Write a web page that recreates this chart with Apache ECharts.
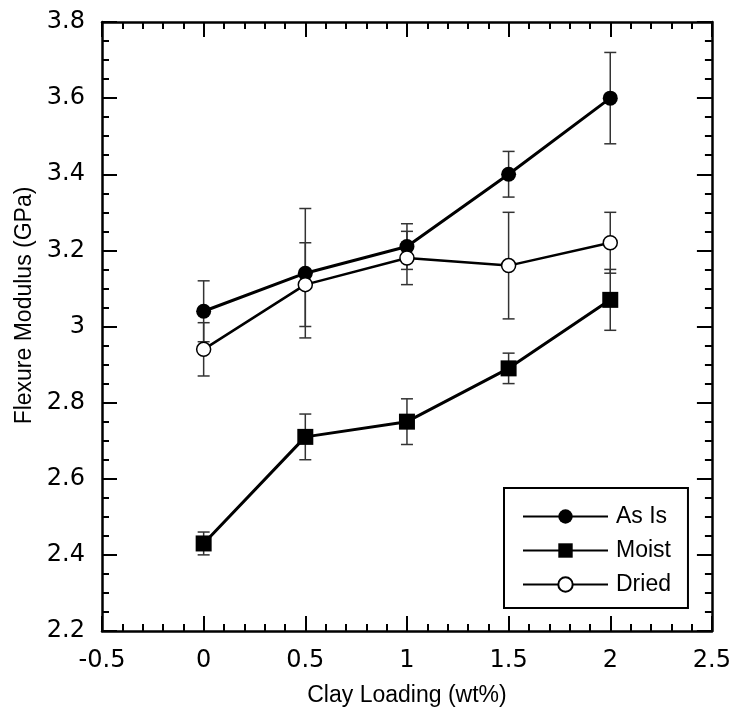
<!DOCTYPE html>
<html><head><meta charset="utf-8">
<script src="https://cdn.jsdelivr.net/npm/echarts@6/dist/echarts.min.js"></script>
<style>html,body{margin:0;padding:0;background:#fff}#c{width:734px;height:717px}</style>
</head><body><div id="c"></div>
<script>
const xValues = [0, 0.5, 1, 1.5, 2];
const asIs = [3.04, 3.14, 3.21, 3.40, 3.60];
const asIsErr = [0.08, 0.17, 0.06, 0.06, 0.12];
const moist = [2.43, 2.71, 2.75, 2.89, 3.07];
const moistErr = [0.03, 0.06, 0.06, 0.04, 0.08];
const dried = [2.94, 3.11, 3.18, 3.16, 3.22];
const driedErr = [0.07, 0.11, 0.07, 0.14, 0.08];
const seriesNames = ['As Is', 'Moist', 'Dried'];

const FONT = 'Liberation Sans, Arial, sans-serif';
const NUMFONT = 'DejaVu Sans, Liberation Sans, sans-serif';
const pts = (ys) => xValues.map((x, i) => [x, ys[i]]);
const errRows = (ys, es) => xValues.map((x, i) => [x, ys[i] - es[i], ys[i] + es[i]]);

function errorSeries(ys, es) {
  return {
    type: 'custom', silent: true, z: 1,
    data: errRows(ys, es),
    encode: { x: 0, y: [1, 2] },
    renderItem: function (params, api) {
      const lo = api.coord([api.value(0), api.value(1)]);
      const hi = api.coord([api.value(0), api.value(2)]);
      const w = 6;
      const st = { stroke: '#333', lineWidth: 1.5 };
      return { type: 'group', children: [
        { type: 'line', shape: { x1: lo[0], y1: lo[1], x2: hi[0], y2: hi[1] }, style: st },
        { type: 'line', shape: { x1: hi[0] - w, y1: hi[1], x2: hi[0] + w, y2: hi[1] }, style: st },
        { type: 'line', shape: { x1: lo[0] - w, y1: lo[1], x2: lo[0] + w, y2: lo[1] }, style: st }
      ]};
    }
  };
}

function lineSeries(name, ys, symbol, fill, size, lw) {
  return {
    name: name, type: 'line', data: pts(ys), z: 3,
    symbol: symbol, symbolSize: size, showAllSymbol: true,
    lineStyle: { color: '#000', width: lw },
    itemStyle: { color: fill, borderColor: '#000', borderWidth: fill === '#fff' ? 1.5 : 0, opacity: 1 },
    emphasis: { disabled: true }, animation: false
  };
}

const axisCommon = {
  axisLine: { show: true, onZero: false, lineStyle: { color: '#000', width: 2.5 } },
  splitLine: { show: false }
};

const chart = echarts.init(document.getElementById('c'), null, { renderer: 'canvas' });
chart.setOption({
  animation: false,
  backgroundColor: '#fff',
  grid: { left: 102, right: 20, top: 22, bottom: 86, containLabel: false },
  xAxis: [
    Object.assign({
      type: 'value', min: -0.5, max: 2.5, interval: 0.5, position: 'bottom',
      name: 'Clay Loading (wt%)', nameLocation: 'middle', nameGap: 53,
      nameTextStyle: { fontFamily: FONT, fontSize: 23, color: '#000' },
      axisTick: { show: true, inside: true, length: 15, lineStyle: { color: '#000', width: 2 } },
      minorTick: { show: true, splitNumber: 5, length: 7, lineStyle: { color: '#000', width: 2 } },
      axisLabel: { fontFamily: NUMFONT, fontSize: 24, color: '#000', margin: 18, showMinLabel: true, showMaxLabel: true }
    }, axisCommon),
    Object.assign({
      type: 'value', min: -0.5, max: 2.5, interval: 0.5, position: 'top',
      axisTick: { show: true, inside: true, length: 15, lineStyle: { color: '#000', width: 2 } },
      minorTick: { show: true, splitNumber: 5, length: 7, lineStyle: { color: '#000', width: 2 } },
      axisLabel: { show: false }
    }, axisCommon)
  ],
  yAxis: [
    Object.assign({
      type: 'value', min: 2.2, max: 3.8, interval: 0.2, position: 'left',
      name: 'Flexure Modulus (GPa)', nameLocation: 'middle', nameGap: 66,
      nameTextStyle: { fontFamily: FONT, fontSize: 23, color: '#000', padding: [0, 0, 0, 42] },
      axisTick: { show: true, inside: true, length: 15, lineStyle: { color: '#000', width: 2 } },
      minorTick: { show: true, splitNumber: 4, length: 7, lineStyle: { color: '#000', width: 2 } },
      axisLabel: { fontFamily: NUMFONT, fontSize: 24, color: '#000', margin: 17, showMinLabel: true, showMaxLabel: true }
    }, axisCommon),
    Object.assign({
      type: 'value', min: 2.2, max: 3.8, interval: 0.2, position: 'right',
      axisTick: { show: true, inside: true, length: 15, lineStyle: { color: '#000', width: 2 } },
      minorTick: { show: true, splitNumber: 4, length: 7, lineStyle: { color: '#000', width: 2 } },
      axisLabel: { show: false }
    }, axisCommon)
  ],
  legend: {
    show: true, orient: 'vertical', left: 504, top: 488,
    data: seriesNames,
    itemWidth: 85, itemHeight: 18, itemGap: 11,
    padding: [17, 17, 12, 18],
    borderColor: '#000', borderWidth: 2, backgroundColor: '#fff',
    textStyle: { fontFamily: FONT, fontSize: 23, color: '#000', padding: [0, 0, 0, 3] },
    selectedMode: false
  },
  series: [
    errorSeries(asIs, asIsErr),
    errorSeries(moist, moistErr),
    errorSeries(dried, driedErr),
    lineSeries('As Is', asIs, 'circle', '#000', 15, 3),
    lineSeries('Moist', moist, 'rect', '#000', 16, 3),
    lineSeries('Dried', dried, 'circle', '#fff', 14, 2.5)
  ]
});
</script></body></html>
